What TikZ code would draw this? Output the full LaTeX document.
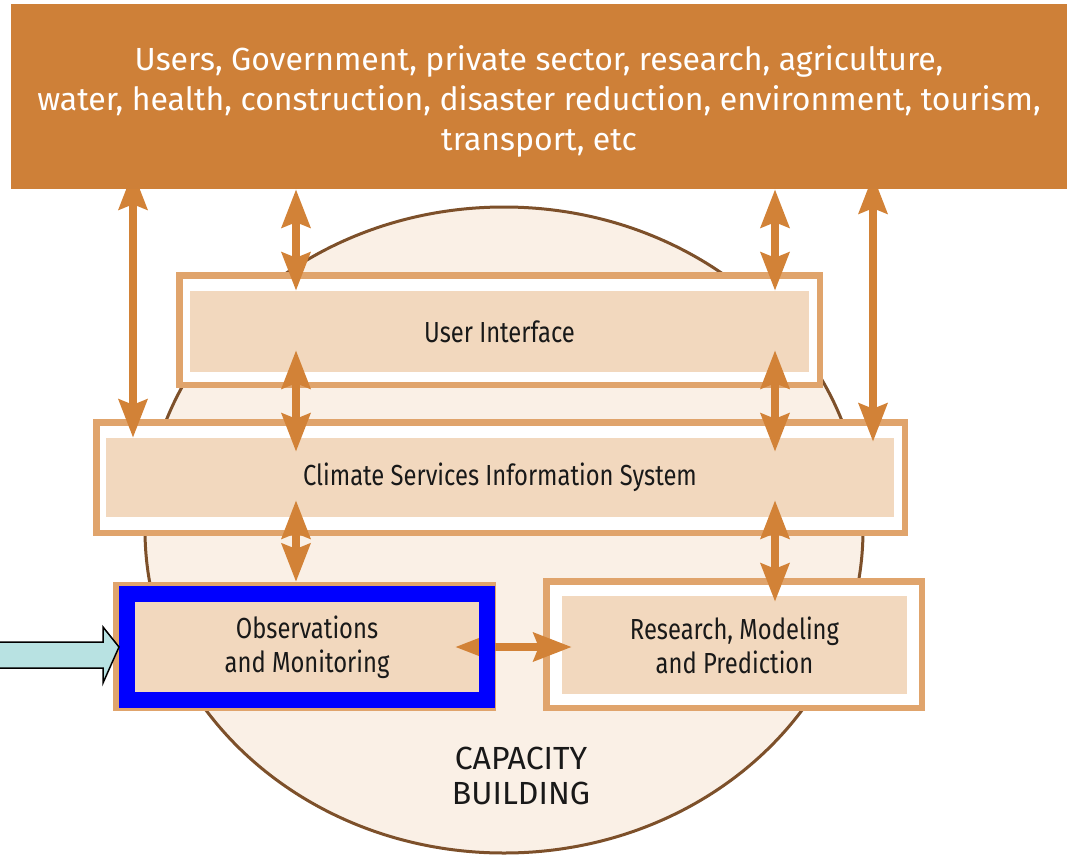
\documentclass[tikz,border=0pt]{standalone}
\usepackage{fontspec}
\usetikzlibrary{arrows.meta}
\newfontfamily\headfont{Fira Sans}
\newfontfamily\labelfont[FakeStretch=0.82]{Fira Sans}
\definecolor{rust}{RGB}{206,128,56}
\definecolor{copper}{RGB}{210,130,55}
\definecolor{sand}{RGB}{224,164,108}
\definecolor{peach}{RGB}{242,216,190}
\definecolor{cream}{RGB}{250,240,230}
\definecolor{umber}{RGB}{125,80,42}
\definecolor{ice}{RGB}{184,226,226}
\begin{document}
\begin{tikzpicture}[x=1pt,y=-1pt,
  headbox/.style={fill=rust,inner sep=0pt},
  headtext/.style={align=center,text=white,inner sep=0pt,
    font=\headfont\fontsize{32}{40}\selectfont},
  boxframe/.style={draw=sand,line width=6.5pt,fill=white,inner sep=0pt},
  boxfill/.style={fill=peach,inner sep=0pt,align=center,text=black!90,
    font=\labelfont\fontsize{29}{34}\selectfont},
  blueedge/.style={draw=blue,line width=16pt,inner sep=0pt},
  ring/.style={draw=umber,line width=3pt,fill=cream},
  flow/.style={draw=copper,line width=8pt,
    {Stealth[length=38pt,width=28pt,inset=5pt]}-{Stealth[length=38pt,width=28pt,inset=5pt]}},
  pointer/.style={draw=black,line width=1.5pt,fill=ice,line join=miter}]
\useasboundingbox (0,0) rectangle (1071,857);
% capacity building disc behind everything
\draw[ring] (504,530) ellipse [x radius=359pt, y radius=323pt];
\node[align=center,text=black!90,font=\headfont\fontsize{32}{35}\selectfont]
  (cap) at (521,776) {CAPACITY\\BUILDING};
% framed boxes
\node[boxframe,minimum width=640.5,minimum height=109.5] (uiframe) at (499.5,330) {};
\node[boxfill,minimum width=619,minimum height=81] (ui) at (499.5,331.5) {User Interface};
\node[boxframe,minimum width=808.5,minimum height=110.5] (csframe) at (500.5,477.5) {};
\node[boxfill,minimum width=788,minimum height=79] (cs) at (500,477.5) {Climate Services Information System};
\node[boxframe,minimum width=376.5,minimum height=122.5] (obsframe) at (304.5,646.5) {};
\node[boxfill,minimum width=344,minimum height=90] (obs) at (307,647) {Observations\\and Monitoring};
\node[boxframe,minimum width=375.5,minimum height=126.5] (rmpframe) at (734,644.5) {};
\node[boxfill,minimum width=345,minimum height=98] (rmp) at (734.5,645) {Research, Modeling\\and Prediction};
% arrow lanes
\coordinate (l1) at (133,0);
\coordinate (l2) at (296,0);
\coordinate (l3) at (775,0);
\coordinate (l4) at (873,0);
\node[headbox,minimum width=1056,minimum height=185] (users) at (539,96.5) {};
\draw[flow,shorten <=-18pt] (users.south -| l1) -- (cs.north -| l1);
\draw[flow] (users.south -| l2) -- (ui.north -| l2);
\draw[flow,shorten <=-22pt,shorten >=-14pt] (ui.south -| l2) -- (cs.north -| l2);
\draw[flow,shorten <=-17pt] (cs.south -| l2) -- (obsframe.north -| l2);
\draw[flow] (users.south -| l3) -- (ui.north -| l3);
\draw[flow,shorten <=-22pt,shorten >=-14pt] (ui.south -| l3) -- (cs.north -| l3);
\draw[flow,shorten <=-17pt,shorten >=-6pt] (cs.south -| l3) -- (rmp.north -| l3);
\draw[flow,shorten <=-14pt,shorten >=-4pt] (users.south -| l4) -- (cs.north -| l4);
\draw[flow,shorten <=-24pt,shorten >=-10pt] (obs.east) -- (obs.east -| rmp.west);
\node[blueedge,minimum width=360,minimum height=106] (obsedge) at (obs.center) {};
% top box goes over the arrow tips
\node[headbox,minimum width=1056,minimum height=185] (users) at (539,96.5) {};
\node[headtext] (sectors) at (539,101)
  {Users, Government, private sector, research, agriculture,\\
   water, health, construction, disaster reduction, environment, tourism,\\
   transport, etc};
% pointer into the observations box
\draw[pointer] (-5,642) -- (103,642) -- (103,627) -- (obsedge.west) -- (103,683)
  -- (103,668) -- (-5,668);
\end{tikzpicture}
\end{document}
